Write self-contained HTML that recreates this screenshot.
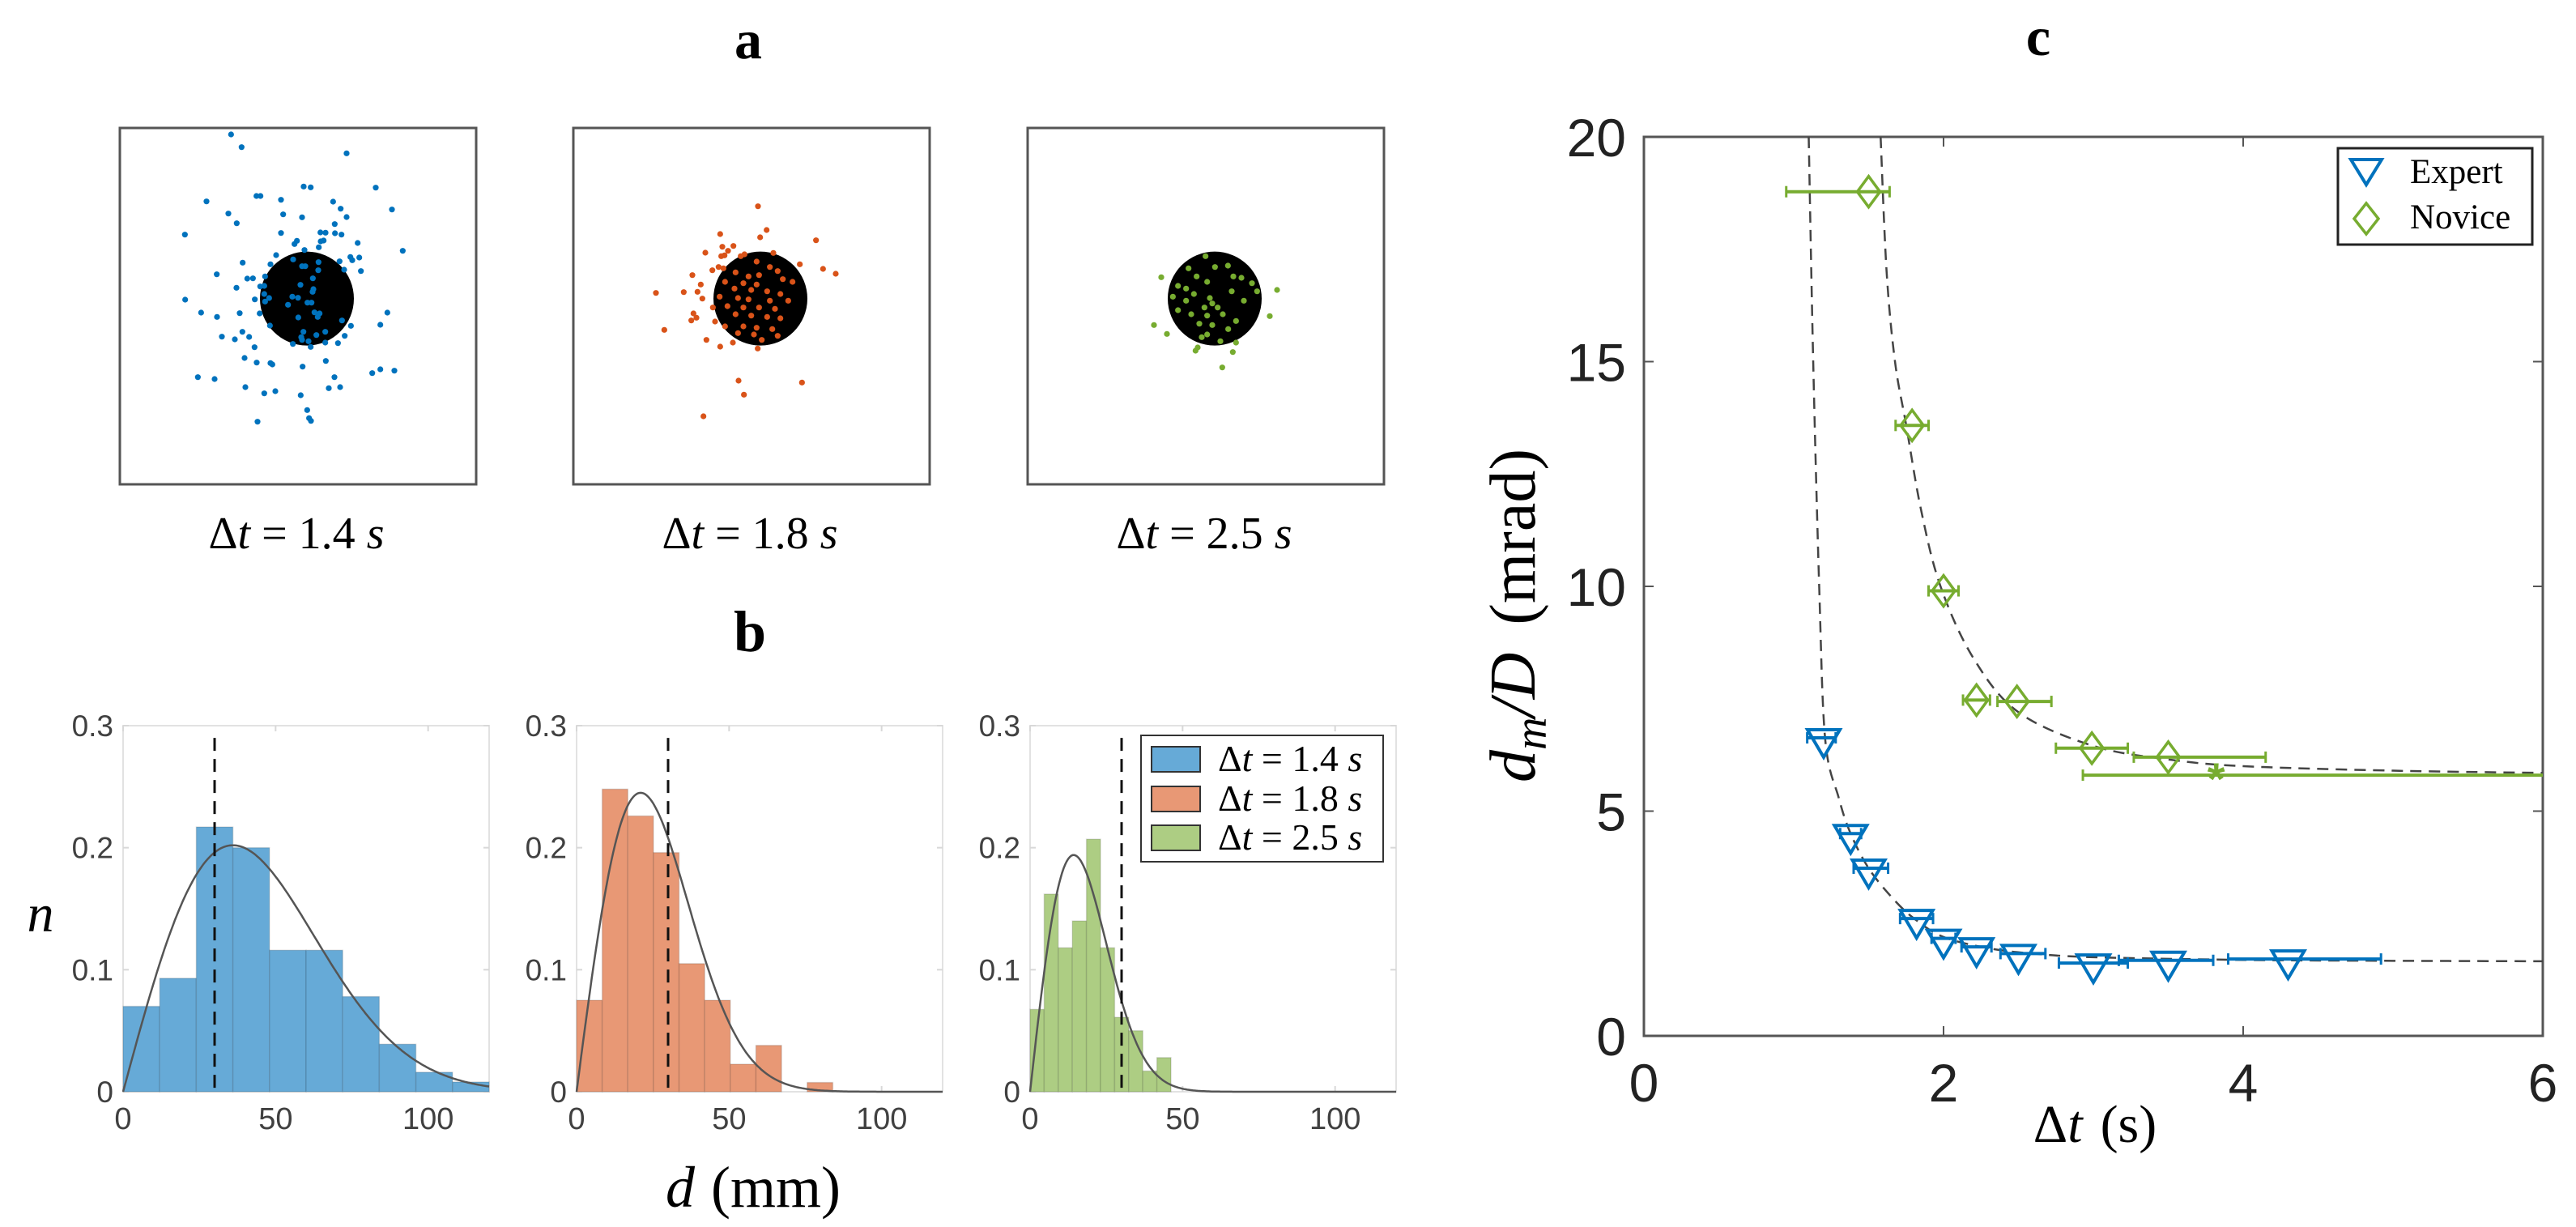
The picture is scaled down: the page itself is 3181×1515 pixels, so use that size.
<!DOCTYPE html>
<html><head><meta charset="utf-8"><style>
html,body{margin:0;padding:0;background:#fff;}
svg{display:block;}
text{font-family:"Liberation Sans",sans-serif;}
.serif{font-family:"Liberation Serif",serif;}
</style></head><body>
<svg id="fig" width="3181" height="1515" viewBox="0 0 3181 1515" xmlns="http://www.w3.org/2000/svg">
<rect x="0" y="0" width="3181" height="1515" fill="#fff"/>
<text class="serif" x="924" y="72" font-size="68" font-weight="bold" text-anchor="middle">a</text>
<text class="serif" x="926" y="804" font-size="72" font-weight="bold" text-anchor="middle">b</text>
<text class="serif" x="2517" y="68" font-size="68" font-weight="bold" text-anchor="middle">c</text>
<g id="pa"></g>
<g id="pb"></g>
<g id="pc"></g>
</svg>
<script>
// ---------- Panel a data (impact positions, raw target units; box spans 25..1345) ----------
const scatterLabels = ["1.4", "1.8", "2.5"];
const blueX = [437,476,865,706,732,973,346,531,546,622,815,1033,843,427,630,700,865,458,821,266,622,768,787,822,846,681,672,769,780,762,906,709,1073,604,879,912,886,480,839,583,856,918,384,497,518,457,267,525,326,385,469,543,1016,990,881,479,403,451,504,858,833,524,666,732,786,487,788,532,583,590,702,314,376,820,960,990,1042,490,560,601,799,841,695,719,726,733,535,667,700,712,761,760,740,694,742,739,563,560,560,578,664,685,648,720,735,545,563,686,746,765,758,848,581,705,786,697,753,700,724];
const blueY = [49,96,119,242,245,246,297,277,277,291,298,327,324,342,345,356,355,378,381,420,414,412,413,415,420,443,455,445,442,467,451,477,480,496,503,505,515,524,519,530,550,555,567,583,582,617,661,660,709,725,711,712,709,754,758,780,798,808,799,795,822,837,825,836,820,877,888,894,896,901,909,948,955,948,933,919,924,985,1008,1000,989,985,1015,1070,1100,1110,1113,512,537,537,522,552,582,606,622,632,575,610,640,655,650,654,680,672,672,612,668,727,708,712,725,738,757,780,780,800,792,810,815];
const orangeX = [709,741,569,717,924,577,618,598,514,585,573,766,659,864,950,997,466,540,563,581,497,331,434,485,503,542,470,481,462,550,362,518,569,616,708,637,872,657,507,645,704,753,782,626,674,713,801,587,655,704,837,622,684,743,792,567,635,674,753,821,596,655,713,772,626,684,743,792,587,655,704,762,635,694,723,782];
const orangeY = [315,403,418,430,441,465,462,480,487,497,500,488,493,530,547,565,570,552,540,545,605,636,633,632,657,690,712,728,738,742,773,810,835,820,842,961,968,1013,1093,500,520,540,555,560,575,570,585,595,600,605,595,620,625,630,640,650,655,660,665,665,685,690,690,695,715,720,725,730,760,760,765,770,785,790,810,795];
const greenX = [520,949,922,493,541,647,655,785,797,746,684,719,767,621,651,582,612,690,787,817,856,641,700,709,680,729,781,826,875,582,631,690,748,797,661,709,768,690,739,670,612,563];
const greenY = [578,625,722,755,788,850,838,855,820,912,500,540,535,545,575,610,620,595,575,580,600,640,655,675,690,690,630,665,630,700,715,720,715,740,750,755,770,790,815,800,665,650];
const targetCenter = [718, 657];
const targetRadius = [174];

// ---------- Panel b data ----------
const histBinWidth = [12, 8.4, 4.62];
const histBlue = [0.070,0.093,0.217,0.200,0.116,0.116,0.078,0.039,0.016,0.008];
const histOrange = [0.075,0.248,0.226,0.196,0.105,0.075,0.0226,0.038,0,0.0076];
const histGreen = [0.0675,0.162,0.118,0.140,0.207,0.118,0.061,0.050,0.017,0.028];
const fitSigma = [36, 21, 14.3];
const fitPeak = [0.202, 0.245, 0.194];
const thresholdMM = [30, 30, 30];
const histXTicks = [0, 50, 100];
const histYTicks = [0, 0.1, 0.2, 0.3];
const histYTickLabels = ["0", "0.1", "0.2", "0.3"];

// ---------- Panel c data ----------
const expertT = [1.20,1.38,1.50,1.82,2.00,2.22,2.50,3.00,3.50,4.30];
const expertE = [6.63,4.50,3.73,2.61,2.17,1.98,1.83,1.62,1.68,1.71];
const expertErrL = [0.11,0.07,0.10,0.11,0.08,0.10,0.12,0.23,0.33,0.40];
const expertErrR = [0.08,0.07,0.13,0.11,0.08,0.10,0.18,0.23,0.30,0.62];
const noviceT = [1.50,1.79,2.00,2.22,2.49,2.99,3.50];
const noviceE = [18.78,13.58,9.90,7.47,7.44,6.40,6.20];
const noviceErrL = [0.55,0.11,0.10,0.09,0.13,0.24,0.23];
const noviceErrR = [0.14,0.11,0.10,0.09,0.23,0.24,0.65];
const noviceStarT = [3.82];
const noviceStarE = [5.80];
const noviceStarErrL = [0.89];
const noviceStarErrR = [2.5];
const expertFitT = [1.10,1.13,1.17,1.21,1.30,1.38,1.50,1.65,1.80,2.0,2.3,2.6,3.0,4.0,5.0,6.0];
const expertFitE = [20,15,10,6.6,5.3,4.5,3.73,3.1,2.62,2.2,1.95,1.83,1.75,1.69,1.67,1.66];
const noviceFitT = [1.58,1.62,1.676,1.75,1.85,1.98,2.2,2.5,3.0,3.5,4.0,5.0,6.0];
const noviceFitE = [20,17,15,13.6,11.7,10,8.4,7.2,6.45,6.15,6.0,5.9,5.85];
const cXTicks = [0,2,4,6];
const cYTicks = [0,5,10,15,20];

const NS = "http://www.w3.org/2000/svg";
function mk(tag, attrs, parent) {
  const e = document.createElementNS(NS, tag);
  for (const k in attrs) e.setAttribute(k, attrs[k]);
  parent.appendChild(e);
  return e;
}

// ===== Panel a =====
const pa = document.getElementById('pa');
const boxLeft = [148, 708, 1269];
const boxTop = 158, boxSize = 440;
const dotSets = [[blueX, blueY, '#0072BD'], [orangeX, orangeY, '#D95319'], [greenX, greenY, '#77AC30']];
for (let i = 0; i < 3; i++) {
  const g = mk('g', {}, pa);
  
  
  const sx = v => boxLeft[i] + (v - 25) / 1320 * boxSize;
  const sy = v => boxTop + (v - 25) / 1320 * boxSize;
  const fr = mk('rect', {x: boxLeft[i], y: boxTop, width: boxSize, height: boxSize, fill: '#fff', stroke: '#555', 'stroke-width': 3}, g);
  
  
  const c = mk('circle', {cx: sx(targetCenter[0]), cy: sy(targetCenter[1]), r: targetRadius[0] / 1320 * boxSize, fill: '#000'}, g);
  
  
  const [X, Y, col] = dotSets[i];
  for (let j = 0; j < X.length; j++) {
    const d = mk('circle', {cx: sx(X[j]), cy: sy(Y[j]), r: 3.6, fill: col}, g);
    
    
  }
  const t = mk('text', {x: boxLeft[i] + boxSize / 2 - 2, y: 677, 'font-size': 56, 'text-anchor': 'middle', class: 'serif'}, g);
  
  
  t.innerHTML = 'Δ<tspan font-style="italic">t</tspan> = ' + scatterLabels[i] + ' <tspan font-style="italic">s</tspan>';
}

// ===== Panel b =====
const pb = document.getElementById('pb');
const hLeft = [152, 712, 1272], hW = 452, hTop = 896, hBot = 1348;
const hists = [histBlue, histOrange, histGreen];
const hFill = ['#66AAD7', '#E89875', '#ADCD83'];
for (let i = 0; i < 3; i++) {
  const g = mk('g', {}, pb);
  
  
  const x = v => hLeft[i] + v / 120 * hW;
  const y = v => hBot - v / 0.3 * (hBot - hTop);
  const fr = mk('rect', {x: hLeft[i], y: hTop, width: hW, height: hBot - hTop, fill: 'none', stroke: '#e2e2e2', 'stroke-width': 2}, g);
  
  
  histXTicks.forEach(t => {
    mk('line', {x1: x(t), x2: x(t), y1: hBot, y2: hBot - 7, stroke: '#d8d8d8', 'stroke-width': 2}, g);
    mk('line', {x1: x(t), x2: x(t), y1: hTop, y2: hTop + 7, stroke: '#d8d8d8', 'stroke-width': 2}, g);
    const tl = mk('text', {x: x(t), y: 1394, 'font-size': 38, 'text-anchor': 'middle', fill: '#404040'}, g);
    
    
    tl.textContent = String(t);
  });
  histYTicks.forEach((t, k) => {
    mk('line', {x1: hLeft[i], x2: hLeft[i] + 7, y1: y(t), y2: y(t), stroke: '#d8d8d8', 'stroke-width': 2}, g);
    mk('line', {x1: hLeft[i] + hW, x2: hLeft[i] + hW - 7, y1: y(t), y2: y(t), stroke: '#d8d8d8', 'stroke-width': 2}, g);
    const tl = mk('text', {x: hLeft[i] - 12, y: y(t) + 13, 'font-size': 37, 'text-anchor': 'end', fill: '#404040'}, g);
    
    
    tl.textContent = histYTickLabels[k];
  });
  const data = hists[i];
  for (let j = 0; j < data.length; j++) {
    if (data[j] <= 0) continue;
    const b = mk('rect', {x: x(j * histBinWidth[i]), y: y(data[j]), width: x(histBinWidth[i]) - x(0), height: hBot - y(data[j]), fill: hFill[i], stroke: 'rgba(0,0,0,0.12)', 'stroke-width': 1.5}, g);
    
    
  }
  let pts = [];
  for (let k = 0; k <= 240; k++) {
    const d = k * 0.5, s = fitSigma[i];
    const v = fitPeak[i] * (d / s) * Math.exp(0.5 - d * d / (2 * s * s));
    pts.push(x(d).toFixed(1) + ',' + y(v).toFixed(1));
  }
  const fl = mk('polyline', {points: pts.join(' '), fill: 'none', stroke: '#555', 'stroke-width': 2.5}, g);
  
  
  const dl = mk('line', {x1: x(thresholdMM[i]), x2: x(thresholdMM[i]), y1: y(0.29), y2: hBot, stroke: '#111', 'stroke-width': 3, 'stroke-dasharray': '16,10'}, g);
  
  
}
{
  const g = mk('g', {}, pb);
  
  
  mk('rect', {x: 1409, y: 908, width: 299, height: 156, fill: '#fff', stroke: '#333', 'stroke-width': 2}, g);
  const rows = [937, 986, 1034];
  for (let k = 0; k < 3; k++) {
    const sw = mk('rect', {x: 1422, y: rows[k] - 15, width: 60, height: 31, fill: hFill[k], stroke: '#333', 'stroke-width': 2}, g);
    
    
    const t = mk('text', {x: 1504, y: rows[k] + 15, 'font-size': 46, class: 'serif'}, g);
    
    
    t.innerHTML = 'Δ<tspan font-style="italic">t</tspan> = ' + scatterLabels[k] + ' <tspan font-style="italic">s</tspan>';
  }
}
{
  const t = mk('text', {x: 50, y: 1150, 'font-size': 66, 'font-style': 'italic', 'text-anchor': 'middle', class: 'serif'}, pb);
  
  
  t.textContent = 'n';
  const t2 = mk('text', {x: 930, y: 1490, 'font-size': 72, 'text-anchor': 'middle', class: 'serif'}, pb);
  
  
  t2.innerHTML = '<tspan font-style="italic">d</tspan><tspan dx="20">(mm)</tspan>';
}

// ===== Panel c =====
const pc = document.getElementById('pc');
const cL = 2030, cR = 3140, cT = 169, cB = 1279;
const cx = v => cL + v / 6 * (cR - cL);
const cy = v => cB - v / 20 * (cB - cT);
{
  const fr = mk('rect', {x: cL, y: cT, width: cR - cL, height: cB - cT, fill: 'none', stroke: '#555', 'stroke-width': 3}, pc);
  
  
  cXTicks.forEach(t => {
    mk('line', {x1: cx(t), x2: cx(t), y1: cB, y2: cB - 12, stroke: '#555', 'stroke-width': 2}, pc);
    mk('line', {x1: cx(t), x2: cx(t), y1: cT, y2: cT + 12, stroke: '#555', 'stroke-width': 2}, pc);
    const tl = mk('text', {x: cx(t), y: 1360, 'font-size': 66, 'text-anchor': 'middle', fill: '#222'}, pc);
    
    
    tl.textContent = String(t);
  });
  cYTicks.forEach(t => {
    mk('line', {x1: cL, x2: cL + 12, y1: cy(t), y2: cy(t), stroke: '#555', 'stroke-width': 2}, pc);
    mk('line', {x1: cR, x2: cR - 12, y1: cy(t), y2: cy(t), stroke: '#555', 'stroke-width': 2}, pc);
    const tl = mk('text', {x: 2008, y: cy(t) + 24, 'font-size': 66, 'text-anchor': 'end', fill: '#222'}, pc);
    
    
    tl.textContent = String(t);
  });
  const xt = mk('text', {x: 2587, y: 1410, 'font-size': 66, 'text-anchor': 'middle', class: 'serif'}, pc);
  
  
  xt.innerHTML = 'Δ<tspan font-style="italic">t</tspan><tspan dx="22">(s)</tspan>';
  const yt = mk('text', {x: 0, y: 0, 'font-size': 80, 'text-anchor': 'middle', class: 'serif', transform: 'translate(1895,760) rotate(-90)'}, pc);
  
  
  yt.innerHTML = '<tspan font-style="italic">d</tspan><tspan font-style="italic" font-size="56" dy="14">m</tspan><tspan dy="-14" font-style="italic">/D</tspan><tspan dx="34">(mrad)</tspan>';
}
const defs = mk('defs', {}, pc);
const cp = mk('clipPath', {id: 'cclip'}, defs);
mk('rect', {x: cL, y: cT, width: cR - cL, height: cB - cT}, cp);
function smoothPath(T, E) {
  const P = T.map((t, i) => [cx(t), cy(E[i])]);
  let d = 'M' + P[0][0] + ',' + P[0][1];
  for (let i = 0; i < P.length - 1; i++) {
    const p0 = P[Math.max(0, i - 1)], p1 = P[i], p2 = P[i + 1], p3 = P[Math.min(P.length - 1, i + 2)];
    const c1 = [p1[0] + (p2[0] - p0[0]) / 6, p1[1] + (p2[1] - p0[1]) / 6];
    const c2 = [p2[0] - (p3[0] - p1[0]) / 6, p2[1] - (p3[1] - p1[1]) / 6];
    d += ' C' + c1.join(',') + ' ' + c2.join(',') + ' ' + p2.join(',');
  }
  return d;
}
const fitG = mk('g', {'clip-path': 'url(#cclip)'}, pc);


const f1 = mk('path', {d: smoothPath(expertFitT, expertFitE), fill: 'none', stroke: '#444', 'stroke-width': 2.5, 'stroke-dasharray': '14,9'}, fitG);


const f2 = mk('path', {d: smoothPath(noviceFitT, noviceFitE), fill: 'none', stroke: '#444', 'stroke-width': 2.5, 'stroke-dasharray': '14,9'}, fitG);



function errbar(g, t, e, l, r, col) {
  const x1 = Math.max(cL, cx(t - l)), x2 = Math.min(cR, cx(t + r)), yy = cy(e);
  const ln = mk('line', {x1: x1, x2: x2, y1: yy, y2: yy, stroke: col, 'stroke-width': 4}, g);
  
  
  if (cx(t - l) >= cL) mk('line', {x1: x1, x2: x1, y1: yy - 7, y2: yy + 7, stroke: col, 'stroke-width': 3}, g);
  if (cx(t + r) <= cR) mk('line', {x1: x2, x2: x2, y1: yy - 7, y2: yy + 7, stroke: col, 'stroke-width': 3}, g);
}
const eg = mk('g', {}, pc);


for (let i = 0; i < expertT.length; i++) {
  errbar(eg, expertT[i], expertE[i], expertErrL[i], expertErrR[i], '#0072BD');
  const X = cx(expertT[i]), Y = cy(expertE[i]);
  const m = mk('polygon', {points: (X - 20) + ',' + (Y - 10) + ' ' + (X + 20) + ',' + (Y - 10) + ' ' + X + ',' + (Y + 24), fill: 'none', stroke: '#0072BD', 'stroke-width': 4}, eg);
  
  
}
const ng = mk('g', {}, pc);


for (let i = 0; i < noviceT.length; i++) {
  errbar(ng, noviceT[i], noviceE[i], noviceErrL[i], noviceErrR[i], '#77AC30');
  const X = cx(noviceT[i]), Y = cy(noviceE[i]);
  const m = mk('polygon', {points: X + ',' + (Y - 19) + ' ' + (X + 14) + ',' + Y + ' ' + X + ',' + (Y + 19) + ' ' + (X - 14) + ',' + Y, fill: 'none', stroke: '#77AC30', 'stroke-width': 3.5}, ng);
  
  
}
for (let i = 0; i < noviceStarT.length; i++) {
  errbar(ng, noviceStarT[i], noviceStarE[i], noviceStarErrL[i], noviceStarErrR[i], '#77AC30');
  const st = mk('text', {x: cx(noviceStarT[i]), y: cy(noviceStarE[i]) + 24, 'font-size': 56, 'text-anchor': 'middle', fill: '#77AC30', 'font-weight': 'bold'}, ng);
  
  
  st.textContent = '*';
}
{
  const g = mk('g', {}, pc);
  
  
  mk('rect', {x: 2887, y: 183, width: 240, height: 119, fill: '#fff', stroke: '#222', 'stroke-width': 3}, g);
  mk('polygon', {points: '2903,197 2941,197 2922,228', fill: 'none', stroke: '#0072BD', 'stroke-width': 4}, g);
  mk('polygon', {points: '2922,251 2937,270 2922,289 2907,270', fill: 'none', stroke: '#77AC30', 'stroke-width': 3.5}, g);
  const t1 = mk('text', {x: 2976, y: 226, 'font-size': 43, class: 'serif'}, g);
  
  
  t1.textContent = 'Expert';
  const t2 = mk('text', {x: 2976, y: 282, 'font-size': 43, class: 'serif'}, g);
  
  
  t2.textContent = 'Novice';
}
</script>
</body></html>
